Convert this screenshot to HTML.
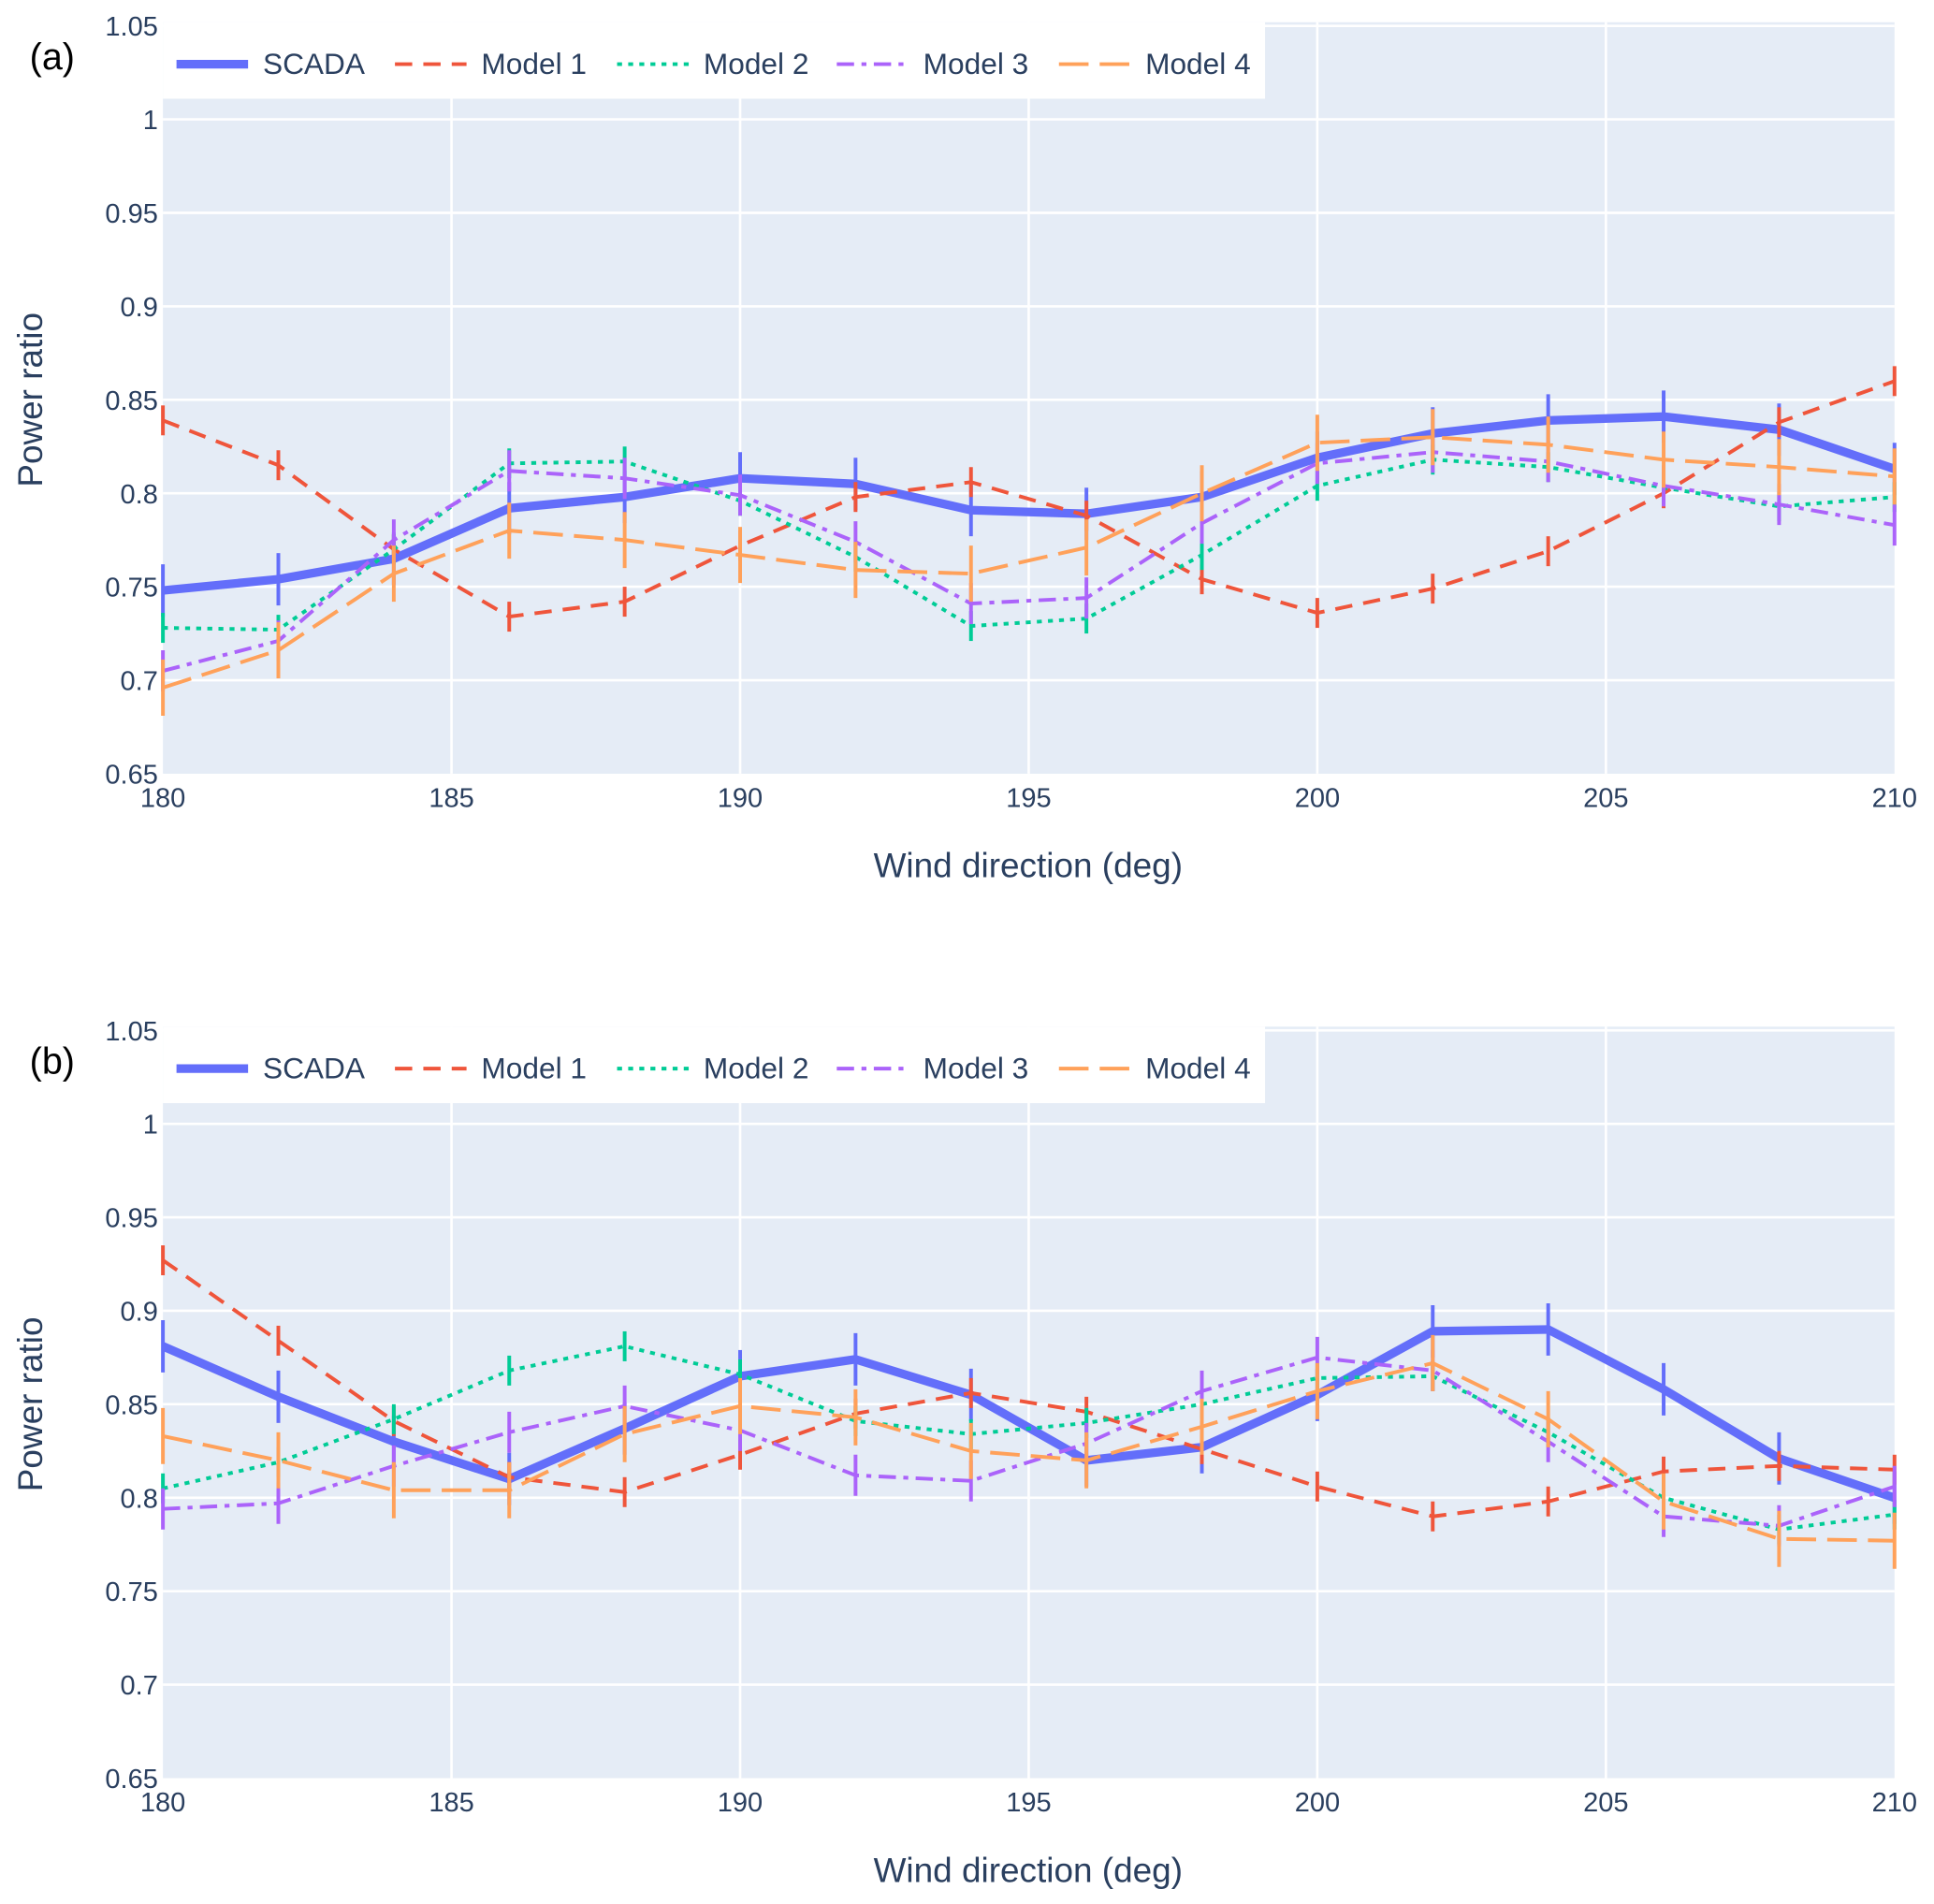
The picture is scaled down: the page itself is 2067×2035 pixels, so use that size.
<!DOCTYPE html>
<html><head><meta charset="utf-8"><style>html,body{margin:0;padding:0;background:#fff}svg{display:block}text{font-family:"Liberation Sans",sans-serif;fill:#2a3f5f}</style></head>
<body>
<svg id="fig" width="2067" height="2035" viewBox="0 0 1567 1543" preserveAspectRatio="none" xmlns="http://www.w3.org/2000/svg"></svg>
<script>
const xs=[180,182,184,186,188,190,192,194,196,198,200,202,204,206,208,210];
const xTicks=[180,185,190,195,200,205,210];
const yTicks=[0.65,0.7,0.75,0.8,0.85,0.9,0.95,1,1.05];
const yTickLabels=["0.65","0.7","0.75","0.8","0.85","0.9","0.95","1","1.05"];
const seriesNames=["SCADA","Model 1","Model 2","Model 3","Model 4"];
const aScada=[0.748,0.754,0.765,0.792,0.798,0.808,0.805,0.791,0.789,0.798,0.819,0.832,0.839,0.841,0.834,0.813];
const aM1=[0.839,0.815,0.770,0.734,0.742,0.772,0.798,0.806,0.788,0.754,0.736,0.749,0.769,0.800,0.838,0.860];
const aM2=[0.728,0.727,0.770,0.816,0.817,0.796,0.766,0.729,0.733,0.767,0.804,0.818,0.814,0.803,0.793,0.798];
const aM3=[0.705,0.721,0.775,0.812,0.808,0.799,0.774,0.741,0.744,0.784,0.816,0.822,0.817,0.804,0.794,0.783];
const aM4=[0.696,0.716,0.757,0.780,0.775,0.767,0.759,0.757,0.771,0.800,0.827,0.830,0.826,0.818,0.814,0.809];
const bScada=[0.881,0.854,0.830,0.810,0.837,0.865,0.874,0.855,0.820,0.827,0.855,0.889,0.890,0.858,0.821,0.800];
const bM1=[0.927,0.884,0.841,0.811,0.803,0.823,0.845,0.856,0.846,0.826,0.806,0.790,0.798,0.814,0.817,0.815];
const bM2=[0.805,0.819,0.842,0.868,0.881,0.866,0.841,0.834,0.840,0.850,0.864,0.865,0.835,0.800,0.783,0.791];
const bM3=[0.794,0.797,0.817,0.835,0.849,0.836,0.812,0.809,0.829,0.857,0.875,0.868,0.830,0.790,0.785,0.806];
const bM4=[0.833,0.820,0.804,0.804,0.834,0.849,0.843,0.825,0.820,0.838,0.857,0.872,0.842,0.798,0.778,0.777];
const errs=[0.014,0.008,0.008,0.011,0.015];

const styles=[
 {c:"#636efa",w:7,d:""},
 {c:"#EF553B",w:3,d:"14,9"},
 {c:"#00cc96",w:3,d:"4,5"},
 {c:"#ab63fa",w:3,d:"14,6,4,6"},
 {c:"#FFA15A",w:3,d:"24,9"}];
const NS="http://www.w3.org/2000/svg";
const svg=document.getElementById('fig');
function el(t,a,p){const e=document.createElementNS(NS,t);for(const k in a)e.setAttribute(k,a[k]);(p||svg).appendChild(e);return e;}
const X0=132,X1=1535;
function xScale(v){return X0+(v-180)/30*(X1-X0);}
function panel(top,label,data,key){
  const yTop=top, yBot=top+606;
  const yScale=v=>yBot-(v-0.65)/0.4*606;
  const g=el('g',{});
  
  
  const bg=el('rect',{x:X0,y:yTop-3,width:X1-X0,height:609,fill:'#e5ecf6'},g);
  
  
  xTicks.forEach(t=>{
    const x=xScale(t);
    if(t>180&&t<210){const l=el('line',{x1:x,x2:x,y1:yTop-3,y2:yBot,stroke:'#fff','stroke-width':2},g);}
    const tx=el('text',{x:x,y:yBot+27,'text-anchor':'middle','font-size':22},g);tx.textContent=t;
    
  });
  yTicks.forEach((t,i)=>{
    const y=yScale(t);
    if(t>0.66){const l=el('line',{x1:X0,x2:X1,y1:y,y2:y,stroke:'#fff','stroke-width':2},g);}
    const tx=el('text',{x:128,y:y+8,'text-anchor':'end','font-size':22},g);tx.textContent=yTickLabels[i];
    
  });
  data.forEach((vals,si)=>{
    const s=styles[si];
    const pts=xs.map((x,i)=>xScale(x).toFixed(1)+','+yScale(vals[i]).toFixed(1)).join(' ');
    const pl=el('polyline',{points:pts,fill:'none',stroke:s.c,'stroke-width':s.w,'stroke-dasharray':s.d,'stroke-linejoin':'round'},g);
    
    
    xs.forEach((x,i)=>{
      const e=el('line',{x1:xScale(x),x2:xScale(x),y1:yScale(vals[i]+errs[si]),y2:yScale(vals[i]-errs[si]),stroke:s.c,'stroke-width':3},g);
      
      
    });
  });
  const lg=el('g',{},g);
  
  
  el('rect',{x:X0,y:yTop-3,width:893,height:62,fill:'#fff'},lg);
  const lx=[143,320,500,678,858], ly=yTop+31;
  seriesNames.forEach((n,si)=>{
    const s=styles[si];
    const it=el('g',{},lg);
    
    
    el('line',{x1:lx[si],x2:lx[si]+58,y1:ly,y2:ly,stroke:s.c,'stroke-width':s.w,'stroke-dasharray':s.d},it);
    const t=el('text',{x:lx[si]+70,y:ly+8,'font-size':24},it);t.textContent=n;
  });
  const yl=el('text',{x:0,y:0,'font-size':28,'text-anchor':'middle',transform:`translate(34,${yTop+303}) rotate(-90)`},g);
  yl.textContent='Power ratio';
  const xl=el('text',{x:833,y:yBot+84,'font-size':28,'text-anchor':'middle'},g);
  xl.textContent='Wind direction (deg)';
  const pl2=el('text',{x:24,y:yTop+35,'font-size':30,style:'fill:#000'},g);
  pl2.textContent=label;
}
panel(21,'(a)',[aScada,aM1,aM2,aM3,aM4],'a');
panel(835,'(b)',[bScada,bM1,bM2,bM3,bM4],'b');
</script>
</body></html>
